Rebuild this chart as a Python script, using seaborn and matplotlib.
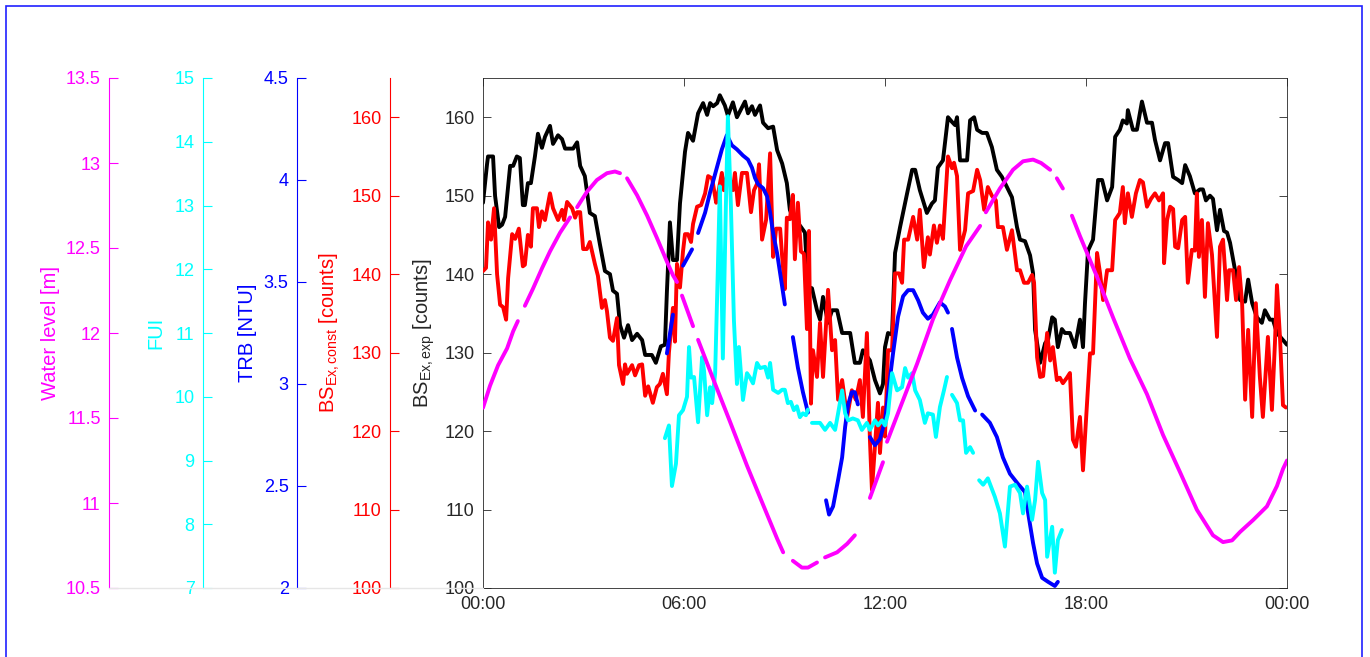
import numpy as np
import pandas as pd
import seaborn as sns
import matplotlib.pyplot as plt
from matplotlib.lines import Line2D
from matplotlib.patches import Rectangle

sns.set_style('white')
plt.rcParams['font.family'] = ['Liberation Sans', 'DejaVu Sans']
plt.rcParams['mathtext.fontset'] = 'custom'
plt.rcParams['mathtext.rm'] = 'Liberation Sans'
plt.rcParams['mathtext.it'] = 'Liberation Sans:italic'

nan = np.nan

# time axis, hours since midnight
hour_ticks = [0, 6, 12, 18, 24]
hour_labels = ['00:00', '06:00', '12:00', '18:00', '00:00']

# BS_Ex,exp [counts] (black, main axis)
bs_exp_t = [0.00, 0.12, 0.15, 0.30, 0.36, 0.48, 0.57, 0.66, 0.81, 0.90,
            1.01, 1.10, 1.19, 1.25, 1.34, 1.43, 1.55, 1.64, 1.76, 1.85,
            2.00, 2.09, 2.24, 2.36, 2.45, 2.69, 2.81, 2.90, 3.04, 3.19,
            3.34, 3.49, 3.64, 3.79, 3.88, 4.00, 4.09, 4.21, 4.33, 4.45,
            4.60, 4.75, 4.84, 5.04, 5.16, 5.31, 5.43, 5.49, 5.58, 5.67,
            5.79, 5.88, 6.03, 6.12, 6.27, 6.42, 6.57, 6.69, 6.78, 6.87,
            6.99, 7.07, 7.22, 7.31, 7.46, 7.58, 7.82, 7.91, 8.03, 8.12,
            8.27, 8.36, 8.51, 8.66, 8.78, 8.93, 9.07, 9.16, 9.31, 9.46,
            9.61, 9.70, 9.82, 9.97, 10.06, 10.15, 10.30, 10.42, 10.57, 10.72,
            10.96, 11.10, 11.25, 11.34, 11.55, 11.70, 11.85, 11.94, 12.00, 12.09,
            12.21, 12.30, 12.45, 12.66, 12.81, 12.90, 13.04, 13.25, 13.40, 13.49,
            13.58, 13.73, 13.88, 14.00, 14.09, 14.15, 14.24, 14.45, 14.54, 14.66,
            14.75, 14.90, 15.04, 15.19, 15.34, 15.49, 15.64, 15.79, 15.94, 16.03,
            16.18, 16.33, 16.42, 16.48, 16.63, 16.78, 16.87, 16.99, 17.07, 17.16,
            17.28, 17.37, 17.52, 17.67, 17.82, 17.91, 17.97, 18.06, 18.21, 18.36,
            18.48, 18.63, 18.78, 18.87, 19.01, 19.10, 19.22, 19.25, 19.40, 19.52,
            19.67, 19.82, 19.97, 20.06, 20.21, 20.36, 20.45, 20.60, 20.75, 20.87,
            20.96, 21.10, 21.25, 21.40, 21.49, 21.58, 21.70, 21.79, 21.91, 22.00,
            22.12, 22.21, 22.30, 22.45, 22.60, 22.75, 22.84, 22.96, 23.10, 23.25,
            23.34, 23.49, 23.58, 23.70, 23.88, 24.00]
bs_exp = [149.1, 154, 155, 155, 150, 146, 146.3, 147.3, 153.8, 153.8,
          155, 154.8, 148.8, 148.8, 151.6, 151.6, 155, 157.9, 156.1, 157.5,
          158.9, 156.6, 157.7, 157.2, 156.0, 156.0, 156.8, 153.8, 152.5, 147.8,
          147.4, 143.8, 140.4, 140, 137.9, 137.5, 133.5, 131.9, 133.5, 131.6,
          132.4, 131.6, 129.7, 129.7, 128.7, 130.8, 131, 137.8, 146.6, 141.8,
          141.8, 149, 155.6, 158, 157, 160.5, 161.8, 160.3, 161.8, 161.4,
          161.8, 162.8, 161.5, 160.2, 161.9, 160.0, 162, 160.5, 161.4, 160.3,
          161.5, 159.3, 158.6, 158.8, 155.8, 154.1, 151.6, 148.2, 146.5, 146.2,
          145.3, 138.4, 138.2, 135.4, 134.2, 137.1, 133.8, 135.4, 135.4, 132.5,
          132.5, 128.7, 128.7, 130.3, 129, 126.5, 124.8, 126, 130.7, 132.5,
          132.3, 142.7, 146, 150.3, 153.3, 153.3, 150.7, 147.8, 149, 149.4,
          153.6, 154.5, 160, 159.4, 159, 160, 154.5, 154.5, 159.6, 160,
          158.4, 158.0, 158, 156.2, 153.3, 152.4, 151.1, 149.8, 146, 144.4,
          144.2, 142.4, 140.1, 132.9, 128.7, 131.2, 131.7, 134.5, 134.2, 130.7,
          133.0, 132.5, 132.5, 130.7, 134.2, 130.7, 136.3, 143, 144.4, 152,
          152, 149.4, 151.1, 157.5, 158.4, 159.6, 159.2, 160.9, 158.4, 158.4,
          162, 159.3, 159.3, 157.1, 154.5, 156.7, 156.7, 152.4, 152, 151.6,
          153.9, 152.5, 150.3, 150.8, 150.8, 149.4, 150, 149.6, 145.6, 148.2,
          145.5, 145.3, 144, 140.5, 136.7, 136.5, 139.3, 136.3, 134.5, 133.8,
          135.4, 134.2, 134.2, 132.5, 131.6, 131]

# BS_Ex,const [counts] (red)
bs_const_t = [0.00, 0.09, 0.15, 0.24, 0.33, 0.42, 0.51, 0.60, 0.69, 0.75,
              0.87, 0.96, 1.07, 1.19, 1.25, 1.34, 1.43, 1.49, 1.61, 1.67,
              1.76, 1.85, 2.00, 2.09, 2.24, 2.36, 2.42, 2.51, 2.66, 2.75,
              2.81, 2.90, 2.99, 3.10, 3.19, 3.34, 3.43, 3.55, 3.64, 3.70,
              3.79, 3.88, 4.00, 4.06, 4.18, 4.24, 4.30, 4.45, 4.54, 4.66,
              4.75, 4.84, 4.93, 5.07, 5.19, 5.28, 5.37, 5.49, 5.55, 5.67,
              5.73, 5.79, 5.88, 5.97, 6.03, 6.12, 6.21, 6.27, 6.39, 6.51,
              6.63, 6.72, 6.84, 6.96, 7.01, 7.13, 7.19, 7.28, 7.34, 7.46,
              7.52, 7.61, 7.73, 7.88, 8.00, 8.09, 8.18, 8.24, 8.33, 8.45,
              8.57, 8.66, 8.75, 8.87, 8.93, 9.01, 9.07, 9.16, 9.25, 9.31,
              9.40, 9.49, 9.58, 9.67, 9.73, 9.79, 9.85, 9.97, 10.06, 10.15,
              10.30, 10.42, 10.51, 10.60, 10.72, 10.87, 11.01, 11.13, 11.25, 11.34,
              11.46, 11.55, 11.61, 11.79, 11.85, 11.94, 12.00, 12.09, 12.21, 12.30,
              12.42, 12.51, 12.57, 12.69, 12.84, 12.96, 13.04, 13.16, 13.28, 13.34,
              13.46, 13.55, 13.64, 13.73, 13.88, 14.00, 14.06, 14.15, 14.24, 14.39,
              14.48, 14.63, 14.75, 14.84, 14.96, 15.07, 15.19, 15.31, 15.37, 15.52,
              15.64, 15.79, 15.94, 16.03, 16.15, 16.27, 16.39, 16.45, 16.54, 16.63,
              16.72, 16.84, 16.93, 17.01, 17.13, 17.22, 17.31, 17.43, 17.52, 17.61,
              17.70, 17.82, 17.91, 18.03, 18.12, 18.21, 18.33, 18.42, 18.51, 18.63,
              18.78, 18.87, 19.01, 19.10, 19.16, 19.25, 19.37, 19.49, 19.61, 19.70,
              19.82, 19.94, 20.06, 20.18, 20.30, 20.33, 20.42, 20.51, 20.60, 20.66,
              20.75, 20.87, 20.96, 21.04, 21.16, 21.25, 21.31, 21.37, 21.46, 21.55,
              21.64, 21.76, 21.91, 22.00, 22.09, 22.21, 22.27, 22.39, 22.48, 22.57,
              22.66, 22.75, 22.84, 22.96, 23.07, 23.19, 23.28, 23.43, 23.55, 23.64,
              23.70, 23.79, 23.88, 23.97]
bs_const = [140.4, 140.8, 146.6, 144.4, 148.4, 140, 136.1, 135.8, 134.2, 139.5,
            145.1, 144.5, 145.8, 141, 141.2, 145, 143.5, 148.4, 148.4, 146,
            148, 146.9, 150.3, 148.4, 146.9, 148.2, 146.9, 149.2, 148.4, 147.2,
            147.9, 147.9, 143.2, 143.2, 144.1, 141.3, 139.8, 135.7, 136.7, 135.3,
            131.9, 131.5, 134.4, 128.4, 126, 128.5, 127.3, 128.4, 127.1, 128.4,
            128.5, 124.5, 125.7, 123.6, 125.6, 126, 127.3, 124.7, 130, 135.7,
            131.4, 141.3, 138.3, 142.9, 145.1, 145.1, 144.1, 146.4, 148.6, 148.8,
            150.3, 152.5, 152.2, 149.1, 150.1, 152.9, 150.7, 152.5, 152.5, 150.7,
            152.9, 148.8, 152.9, 152.9, 147.9, 150.7, 151.5, 154, 144.4, 146.9,
            155.4, 142.2, 145.8, 145.8, 142.2, 138.1, 147.2, 147, 150.1, 141.9,
            149.1, 142.9, 142.6, 133, 145.5, 123.5, 130.3, 126.9, 133.8, 126.9,
            138, 130.3, 131.6, 124, 126.5, 121.8, 125.2, 124, 126.5, 121.8,
            132.5, 118.9, 112.5, 123.6, 117.2, 123, 119.3, 130.3, 130.3, 140.1,
            140.1, 138.9, 144.4, 144.4, 147.3, 144.4, 148.2, 140.9, 144.7, 142.5,
            146.2, 144, 146.2, 144.5, 155, 153.5, 154.2, 152.5, 143.1, 145.6,
            150.3, 150.6, 153.3, 152, 148.2, 151.1, 150, 149.4, 146, 146,
            143.1, 145.6, 140.5, 140.5, 138.9, 138.9, 139.9, 138.9, 129.4, 126.9,
            127, 132.5, 129, 130.7, 126.5, 126.8, 126.1, 126.8, 127.4, 118.9,
            118, 121.8, 115, 123.6, 129.9, 129.9, 142.7, 140.1, 136.7, 140.5,
            140.5, 146.9, 147.8, 151.1, 146.5, 150.3, 147.3, 150.3, 152, 151.7,
            148.6, 149.6, 150.3, 149.4, 150.3, 141.4, 146.9, 148.6, 148.3, 143.5,
            143.3, 146.9, 147.3, 138.9, 143.1, 143, 150.3, 142.2, 146.9, 137.1,
            146.5, 142.5, 132, 143.5, 144.4, 136.7, 140.5, 140.5, 136.7, 140.9,
            136.3, 124, 132.9, 121.8, 136.3, 126.9, 121.8, 132, 122.7, 131.2,
            138.6, 132, 123.3, 123]

# TRB [NTU] (blue), nan = gap in the record
trb_t = [5.49, 5.67, 5.80, 5.97, 6.24, 6.33, 6.42, 6.63, 6.78, 6.93,
         7.13, 7.28, 7.43, 7.58, 7.76, 7.91, 8.03, 8.12, 8.21, 8.36,
         8.48, 8.57, 8.66, 8.78, 8.90, 9.01, 9.13, 9.25, 9.40, 9.55,
         9.70, 10.00, 10.24, 10.33, 10.45, 10.60, 10.72, 10.81, 10.90, 11.01,
         11.10, 11.19, 11.40, 11.55, 11.70, 11.85, 12.00, 12.12, 12.24, 12.39,
         12.54, 12.69, 12.84, 12.99, 13.13, 13.28, 13.43, 13.64, 13.79, 13.88,
         13.95, 14.00, 14.15, 14.30, 14.48, 14.69, 14.80, 14.90, 15.13, 15.34,
         15.52, 15.73, 15.97, 16.18, 16.27, 16.42, 16.54, 16.69, 16.87, 17.07,
         17.16]
trb = [3.15, 3.34, nan, 3.58, 3.66, nan, 3.74, 3.84, 3.94, 4.03,
       4.15, 4.22, 4.17, 4.15, 4.12, 4.10, 4.06, 4.01, 3.98, 3.96,
       3.92, 3.84, 3.74, 3.64, 3.51, 3.39, nan, 3.23, 3.08, 2.96,
       2.86, nan, 2.43, 2.36, 2.40, 2.53, 2.64, 2.79, 2.90, 2.96,
       2.96, 2.90, nan, 2.74, 2.70, 2.73, 2.82, 2.99, 3.15, 3.33,
       3.43, 3.46, 3.46, 3.41, 3.35, 3.32, 3.34, 3.40, 3.38, 3.35,
       nan, 3.27, 3.13, 3.03, 2.94, 2.87, nan, 2.85, 2.81, 2.74,
       2.64, 2.56, 2.51, 2.47, 2.37, 2.22, 2.12, 2.05, 2.03, 2.01,
       2.03]

# FUI (cyan)
fui_t = [5.43, 5.49, 5.55, 5.64, 5.76, 5.85, 5.97, 6.09, 6.15, 6.21,
         6.30, 6.42, 6.54, 6.60, 6.69, 6.78, 6.84, 6.93, 7.01, 7.07,
         7.16, 7.25, 7.31, 7.40, 7.49, 7.58, 7.64, 7.76, 7.88, 7.97,
         8.06, 8.18, 8.27, 8.42, 8.51, 8.57, 8.66, 8.81, 8.93, 9.01,
         9.10, 9.19, 9.28, 9.37, 9.46, 9.55, 9.64, 9.70, 9.76, 9.82,
         10.06, 10.21, 10.36, 10.51, 10.60, 10.72, 10.81, 10.90, 11.04, 11.19,
         11.31, 11.46, 11.55, 11.70, 11.79, 11.91, 12.00, 12.09, 12.21, 12.36,
         12.51, 12.60, 12.69, 12.81, 12.90, 13.04, 13.19, 13.28, 13.43, 13.52,
         13.64, 13.76, 13.85, 13.93, 14.00, 14.15, 14.24, 14.33, 14.42, 14.54,
         14.63, 14.72, 14.81, 14.93, 15.07, 15.28, 15.43, 15.58, 15.73, 15.88,
         16.03, 16.12, 16.24, 16.39, 16.48, 16.57, 16.69, 16.78, 16.84, 16.99,
         17.07, 17.16, 17.28]
fui = [9.35, 9.45, 9.55, 8.6, 8.95, 9.71, 9.79, 10.0, 10.78, 10.3,
       10.31, 9.60, 10.62, 10.4, 9.71, 10.15, 9.90, 10.37, 12.0, 13.3,
       10.6, 13.0, 14.4, 13.0, 11.2, 10.2, 10.78, 9.95, 10.37, 10.3,
       10.21, 10.53, 10.45, 10.47, 10.3, 10.53, 10.11, 10.06, 10.11, 10.11,
       9.90, 9.92, 9.79, 9.85, 9.68, 9.74, 9.71, 9.80, nan, 9.59,
       9.59, 9.48, 9.59, 9.48, 9.74, 10.1, 9.74, 9.63, 9.66, 9.63,
       9.48, 9.59, 9.48, 9.63, 9.55, 9.63, 9.55, 9.74, 10.37, 10.1,
       10.15, 10.45, 10.3, 10.37, 10.1, 9.95, 9.59, 9.74, 9.72, 9.37,
       9.84, 10.1, 10.31, nan, 10.03, 9.9, 9.63, 9.63, 9.12, 9.21,
       9.12, nan, 8.69, 8.62, 8.72, 8.43, 8.17, 7.65, 8.59, 8.62,
       8.49, 8.17, 8.59, 8.07, 8.38, 8.98, 8.49, 8.38, 7.49, 7.96,
       7.24, 7.75, 7.91]

# Water level [m] (magenta)
wl_t = [0.00, 0.21, 0.45, 0.72, 0.90, 1.04, 1.13, 1.25, 1.49, 1.76,
        2.00, 2.30, 2.60, 2.72, 2.81, 3.10, 3.40, 3.70, 3.94, 4.09,
        4.18, 4.30, 4.60, 4.90, 5.19, 5.49, 5.67, 5.79, 5.85, 5.94,
        6.27, 6.33, 6.42, 6.87, 7.37, 7.88, 8.36, 8.78, 8.96, 9.10,
        9.25, 9.52, 9.70, 9.97, 10.06, 10.21, 10.57, 10.87, 11.10, 11.30,
        11.55, 11.94, 12.00, 12.06, 12.45, 12.96, 13.43, 13.94, 14.42, 14.84,
        14.93, 15.01, 15.43, 15.82, 16.12, 16.42, 16.66, 16.93, 17.00, 17.13,
        17.31, 17.40, 17.58, 17.82, 18.33, 18.81, 19.31, 19.82, 20.30, 20.81,
        21.31, 21.79, 22.09, 22.36, 22.60, 22.99, 23.40, 23.70, 23.88, 24.00]
wl = [11.56, 11.69, 11.81, 11.91, 12.01, 12.07, nan, 12.16, 12.26, 12.38,
      12.48, 12.59, 12.68, nan, 12.74, 12.83, 12.90, 12.94, 12.95, 12.94,
      nan, 12.91, 12.81, 12.69, 12.56, 12.42, 12.34, 12.30, nan, 12.22,
      12.04, nan, 11.96, 11.73, 11.48, 11.22, 10.99, 10.79, 10.71, nan,
      10.66, 10.62, 10.62, 10.65, nan, 10.68, 10.71, 10.76, 10.81, nan,
      11.03, 11.24, nan, 11.36, 11.56, 11.82, 12.08, 12.31, 12.51, 12.63,
      nan, 12.71, 12.85, 12.96, 13.01, 13.02, 13.00, 12.96, nan, 12.91,
      12.85, nan, 12.69, 12.57, 12.33, 12.09, 11.85, 11.64, 11.40, 11.18,
      10.96, 10.81, 10.77, 10.78, 10.83, 10.90, 10.98, 11.10, 11.20, 11.25]


def as_frame(t, v):
    # split the record into pieces at every gap so the line breaks there
    df = pd.DataFrame({'t': t, 'v': v})
    df['seg'] = df['v'].isna().cumsum()
    return df.dropna()


W, H = 1370, 657
fig = plt.figure(figsize=(W / 100, H / 100), dpi=100)
ax = fig.add_axes([483 / W, 1 - 588 / H, 804 / W, 510 / H])

LW = 2.8
TICK = 13
LABEL = 14.5
DARK = '#262626'


def side_axis(color, spine_x, lo, hi, step, label, label_x):
    t = ax.twinx()
    for s in ['top', 'right', 'bottom']:
        t.spines[s].set_visible(False)
    t.spines['left'].set_visible(True)
    t.spines['left'].set_position(('axes', spine_x))
    t.spines['left'].set_color(color)
    t.spines['left'].set_linewidth(0.8)
    t.yaxis.set_ticks_position('left')
    t.yaxis.set_label_position('left')
    t.tick_params(axis='y', direction='in', length=6.5, width=0.8,
                  colors=color, labelsize=TICK, pad=6)
    return t


ax_r = side_axis('red', -0.1157, 100, 165, 10, None, None)
ax_b = side_axis('#0000ff', -0.2313, 2, 4.5, 0.5, None, None)
ax_c = side_axis('cyan', -0.3483, 7, 15, 1, None, None)
ax_m = side_axis('magenta', -0.4652, 10.5, 13.5, 0.5, None, None)

kw = dict(x='t', y='v', units='seg', estimator=None, lw=LW, legend=False)
sns.lineplot(data=as_frame(bs_exp_t, bs_exp), color='black', ax=ax, **kw)
sns.lineplot(data=as_frame(bs_const_t, bs_const), color='red', ax=ax_r, **kw)
sns.lineplot(data=as_frame(trb_t, trb), color='#0000ff', ax=ax_b, **kw)
sns.lineplot(data=as_frame(fui_t, fui), color='cyan', ax=ax_c, **kw)
sns.lineplot(data=as_frame(wl_t, wl), color='magenta', ax=ax_m, **kw)

ax.set_xlim(0, 24)
ax.set_xticks(hour_ticks)
ax.set_xticklabels(hour_labels)
ax.set_xlabel('')
ax.set_ylim(100, 165)
ax.set_yticks(np.arange(100, 161, 10))
ax.tick_params(direction='in', length=6, width=0.6, colors=DARK,
               labelsize=TICK, pad=6, top=True, right=True,
               labeltop=False, labelright=False)
for s in ax.spines.values():
    s.set_color(DARK)
    s.set_linewidth(0.6)
ax.set_ylabel(r'BS$_{\mathrm{Ex,exp}}$ [counts]', color=DARK, fontsize=LABEL)
ax.yaxis.set_label_coords(-0.057, 0.5)

ax_r.set_ylim(100, 165)
ax_r.set_yticks(np.arange(100, 161, 10))
ax_r.set_ylabel(r'BS$_{\mathrm{Ex,const}}$ [counts]', color='red', fontsize=LABEL)
ax_r.yaxis.set_label_coords(-0.1754, 0.5)

ax_b.set_ylim(2, 4.5)
ax_b.set_yticks(np.arange(2, 4.51, 0.5))
ax_b.set_yticklabels(['2', '2.5', '3', '3.5', '4', '4.5'])
ax_b.set_ylabel('TRB [NTU]', color='#0000ff', fontsize=LABEL)
ax_b.yaxis.set_label_coords(-0.281, 0.5)

ax_c.set_ylim(7, 15)
ax_c.set_yticks(np.arange(7, 15.1, 1))
ax_c.set_ylabel('FUI', color='cyan', fontsize=LABEL)
ax_c.yaxis.set_label_coords(-0.3955, 0.5)

ax_m.set_ylim(10.5, 13.5)
ax_m.set_yticks(np.arange(10.5, 13.51, 0.5))
ax_m.set_yticklabels(['10.5', '11', '11.5', '12', '12.5', '13', '13.5'])
ax_m.set_ylabel('Water level [m]', color='magenta', fontsize=LABEL)
ax_m.yaxis.set_label_coords(-0.526, 0.5)

# faint base line under the stacked side axes, and the blue figure frame
fig.add_artist(Line2D([109 / W, 483 / W], [1 - 588 / H] * 2,
                      transform=fig.transFigure, color='#e6e6e6', lw=1))
fig.add_artist(Rectangle((6 / W, -0.05), 1356 / W, 1.05 - 5.5 / H,
                         transform=fig.transFigure, fill=False,
                         edgecolor='#2020ff', lw=1.2))

fig.savefig('out.png', dpi=100)
